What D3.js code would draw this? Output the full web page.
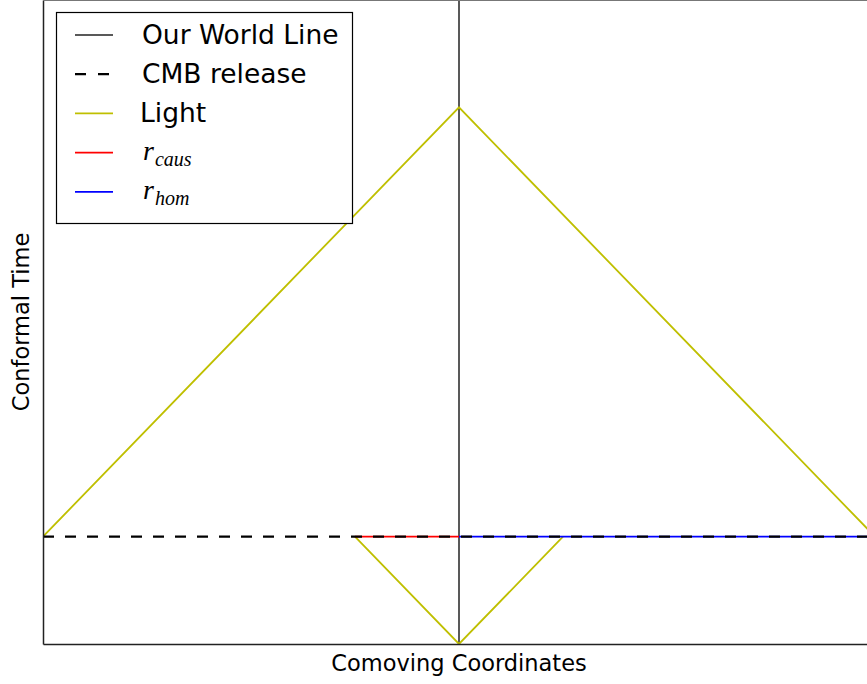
<!DOCTYPE html>
<html>
<head>
<meta charset="utf-8">
<script src="https://cdn.jsdelivr.net/npm/d3@7"></script>
<style>
  html, body { margin: 0; padding: 0; background: #fff; }
  svg { display: block; }
  text { font-family: "DejaVu Sans", sans-serif; fill: #000; }
</style>
</head>
<body>
<svg id="chart" width="867" height="684"></svg>
<script>
// Conformal diagram: comoving coordinate vs conformal time
const xDomain = [-4, 4];
const yDomain = [0, 6];

const worldLine = [[0, 0], [0, 6]];
const cmbRelease = [[-4, 1], [4, 1]];
const lightPastCone = [[-4, 1], [0, 5], [4, 1]];
const lightCausal = [[-1, 1], [0, 0], [1, 1]];
const rCaus = [[-1, 1], [0, 1]];
const rHom = [[0, 1], [4, 1]];

const legendLabels = ["Our World Line", "CMB release", "Light", "caus", "hom"];

const svg = d3.select("#chart");
const plot = { left: 43, top: 0, right: 875, bottom: 644 };

const x = d3.scaleLinear().domain(xDomain).range([plot.left, plot.right]);
const y = d3.scaleLinear().domain(yDomain).range([plot.bottom, plot.top]);
const line = d3.line().x(d => x(d[0])).y(d => y(d[1]));

svg.append("defs").append("clipPath").attr("id", "plotclip")
  .append("rect")
  .attr("x", plot.left).attr("y", plot.top)
  .attr("width", plot.right - plot.left).attr("height", plot.bottom - plot.top);

const g = svg.append("g").attr("clip-path", "url(#plotclip)");

const styles = {
  world: { stroke: "#222", width: 1.5, dash: null },
  cmb: { stroke: "#000", width: 2.2, dash: "11,11" },
  light: { stroke: "#bfbf00", width: 1.8, dash: null },
  caus: { stroke: "#ff0000", width: 1.8, dash: null },
  hom: { stroke: "#0000ff", width: 1.8, dash: null }
};

function draw(data, s) {
  g.append("path").datum(data)
    .attr("d", line)
    .attr("fill", "none")
    .attr("stroke", s.stroke)
    .attr("stroke-width", s.width)
    .attr("stroke-dasharray", s.dash);
}

draw(worldLine, styles.world);
draw(lightPastCone, styles.light);
draw(lightCausal, styles.light);
draw(rCaus, styles.caus);
draw(rHom, styles.hom);
draw(cmbRelease, styles.cmb);

// axes frame (no ticks)
const axisX = d3.axisBottom(x).tickValues([]).tickSizeOuter(0);
const axisY = d3.axisLeft(y).tickValues([]).tickSizeOuter(0);
svg.append("g").attr("transform", `translate(0,${plot.bottom})`).call(axisX)
  .select(".domain").attr("stroke", "#222").attr("stroke-width", 1.5);
svg.append("g").attr("transform", `translate(${plot.left},0)`).call(axisY)
  .select(".domain").attr("stroke", "#222").attr("stroke-width", 1.5);
svg.append("line")
  .attr("x1", plot.left).attr("x2", plot.right)
  .attr("y1", plot.top + 0.5).attr("y2", plot.top + 0.5)
  .attr("stroke", "#777").attr("stroke-width", 1.2);

// axis labels
svg.append("text")
  .attr("x", x(0)).attr("y", 671)
  .attr("text-anchor", "middle")
  .style("font-size", "22.5px")
  .text("Comoving Coordinates");
svg.append("text")
  .attr("transform", `translate(29,${(plot.bottom + plot.top) / 2}) rotate(-90)`)
  .attr("text-anchor", "middle")
  .style("font-size", "22.5px")
  .text("Conformal Time");

// legend
const leg = svg.append("g");
leg.append("rect")
  .attr("x", 56.5).attr("y", 12.5).attr("width", 296).attr("height", 211)
  .attr("fill", "#fff").attr("stroke", "#000").attr("stroke-width", 1.2);

const legendStyles = [styles.world, styles.cmb, styles.light, styles.caus, styles.hom];
legendLabels.forEach((lab, i) => {
  const cy = 35 + i * 39.2;
  const s = legendStyles[i];
  leg.append("line")
    .attr("x1", 75).attr("x2", 113).attr("y1", cy).attr("y2", cy)
    .attr("stroke", s.stroke).attr("stroke-width", s.width)
    .attr("stroke-dasharray", s.dash ? "11,12" : null);
  if (i < 3) {
    leg.append("text")
      .attr("x", i === 2 ? 140 : 142).attr("y", cy + 9)
      .style("font-size", "26.5px")
      .text(lab);
  } else {
    const t = leg.append("text")
      .attr("x", 143).attr("y", cy + 7)
      .style("font-family", "'Liberation Serif', serif")
      .style("font-style", "italic")
      .style("font-size", "28px");
    t.append("tspan").text("r");
    t.append("tspan").attr("dy", 6).attr("dx", 1).style("font-size", "20px").text(lab);
  }
});
</script>
</body>
</html>
